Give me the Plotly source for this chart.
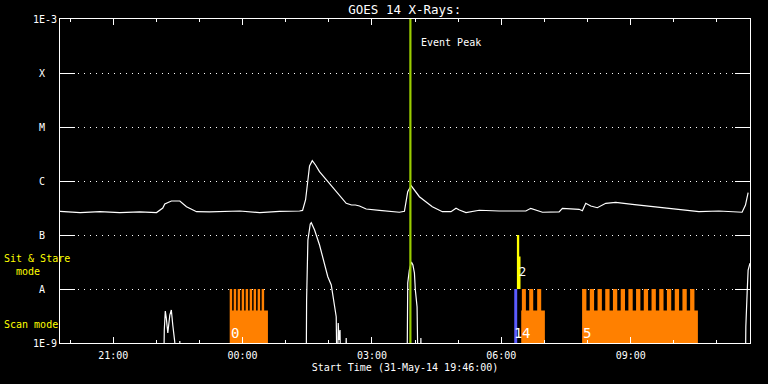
import plotly.graph_objects as go
import pandas as pd

# ---------------- data ----------------
start_time = "2014-05-31 19:46:00"
end_time = "2014-06-01 11:46:00"
peak_time = "2014-06-01 03:53:30"

long_times = [
    "2014-05-31 19:46:00", "2014-05-31 20:14:00", "2014-05-31 20:41:36", "2014-05-31 21:09:00",
    "2014-05-31 21:37:00", "2014-05-31 22:00:18", "2014-05-31 22:09:00", "2014-05-31 22:11:48",
    "2014-05-31 22:21:00", "2014-05-31 22:32:42", "2014-05-31 22:42:00", "2014-05-31 22:56:00",
    "2014-05-31 23:14:00", "2014-05-31 23:56:00", "2014-06-01 00:23:48", "2014-06-01 00:51:36",
    "2014-06-01 01:19:18", "2014-06-01 01:23:30", "2014-06-01 01:27:42", "2014-06-01 01:30:24",
    "2014-06-01 01:33:12", "2014-06-01 01:37:00", "2014-06-01 01:41:30", "2014-06-01 01:47:00",
    "2014-06-01 01:54:00", "2014-06-01 02:01:00", "2014-06-01 02:12:00", "2014-06-01 02:24:12",
    "2014-06-01 02:31:36", "2014-06-01 02:37:00", "2014-06-01 02:42:42", "2014-06-01 02:52:00",
    "2014-06-01 03:10:24", "2014-06-01 03:38:12", "2014-06-01 03:45:12", "2014-06-01 03:49:48",
    "2014-06-01 03:54:30", "2014-06-01 04:06:00", "2014-06-01 04:24:00", "2014-06-01 04:38:00",
    "2014-06-01 04:50:00", "2014-06-01 04:57:00", "2014-06-01 05:01:36", "2014-06-01 05:10:54",
    "2014-06-01 05:29:18", "2014-06-01 05:57:00", "2014-06-01 06:34:12", "2014-06-01 06:41:00",
    "2014-06-01 06:57:18", "2014-06-01 07:20:24", "2014-06-01 07:25:00", "2014-06-01 07:48:12",
    "2014-06-01 07:52:48", "2014-06-01 07:57:30", "2014-06-01 08:04:30", "2014-06-01 08:13:36",
    "2014-06-01 08:25:18", "2014-06-01 08:39:12", "2014-06-01 09:02:18", "2014-06-01 09:39:18",
    "2014-06-01 10:11:42", "2014-06-01 10:34:54", "2014-06-01 11:02:42", "2014-06-01 11:21:12",
    "2014-06-01 11:35:00", "2014-06-01 11:39:42", "2014-06-01 11:43:24",
]
long_flux = [
    2.75e-7, 2.6e-7, 2.7e-7, 2.6e-7,
    2.67e-7, 2.6e-7, 3.16e-7, 3.75e-7,
    4.26e-7, 4.26e-7, 3.34e-7, 2.7e-7,
    2.67e-7, 2.78e-7, 2.6e-7, 2.75e-7,
    2.78e-7, 2.85e-7, 4.5e-7, 1.04e-6,
    1.9e-6, 2.38e-6, 1.98e-6, 1.49e-6,
    1.16e-6, 9.18e-7, 6.26e-7, 3.86e-7,
    3.59e-7, 3.59e-7, 3.44e-7, 3.03e-7,
    2.85e-7, 2.64e-7, 2.75e-7, 6.34e-7,
    8.18e-7, 5.12e-7, 3.34e-7, 2.7e-7,
    2.7e-7, 3.12e-7, 2.9e-7, 2.6e-7,
    2.87e-7, 2.78e-7, 2.78e-7, 3.12e-7,
    2.64e-7, 2.67e-7, 3.12e-7, 2.99e-7,
    2.82e-7, 3.86e-7, 3.44e-7, 3.2e-7,
    3.86e-7, 4.03e-7, 3.7e-7, 3.26e-7,
    2.9e-7, 2.7e-7, 2.78e-7, 2.7e-7,
    2.64e-7, 3.59e-7, 6.07e-7,
]

short_times = [
    "2014-05-31 19:46:00", "2014-05-31 22:09:48", "2014-05-31 22:11:06", "2014-05-31 22:12:30",
    "2014-05-31 22:13:54", "2014-05-31 22:16:00", "2014-05-31 22:18:48", "2014-05-31 22:20:54",
    "2014-05-31 22:22:54", "2014-05-31 22:25:42", "2014-05-31 22:27:06", "2014-05-31 22:31:18",
    "2014-05-31 22:32:42", "2014-05-31 22:34:06", "2014-06-01 01:28:24", "2014-06-01 01:29:06",
    "2014-06-01 01:30:54", "2014-06-01 01:34:12", "2014-06-01 01:35:36", "2014-06-01 01:40:12",
    "2014-06-01 01:47:06", "2014-06-01 01:51:42", "2014-06-01 01:56:24", "2014-06-01 01:58:36",
    "2014-06-01 02:03:24", "2014-06-01 02:07:00", "2014-06-01 02:10:18", "2014-06-01 02:11:42",
    "2014-06-01 02:13:06", "2014-06-01 02:14:12", "2014-06-01 02:15:36", "2014-06-01 02:17:00",
    "2014-06-01 02:22:12", "2014-06-01 02:24:12", "2014-06-01 02:26:00", "2014-06-01 03:48:36",
    "2014-06-01 03:49:48", "2014-06-01 03:52:06", "2014-06-01 03:54:54", "2014-06-01 03:57:00",
    "2014-06-01 03:59:06", "2014-06-01 04:00:24", "2014-06-01 04:02:48", "2014-06-01 04:04:36",
    "2014-06-01 04:07:00", "2014-06-01 04:08:06", "2014-06-01 04:09:30", "2014-06-01 11:39:12",
    "2014-06-01 11:40:12", "2014-06-01 11:42:00", "2014-06-01 11:43:24", "2014-06-01 11:46:00",
]
short_flux = [
    1e-10, 1e-10, 1.74e-9, 3.9e-9,
    2.9e-9, 1.53e-9, 3.3e-9, 4.08e-9,
    2.15e-9, 1.04e-9, 1e-10, 1e-10,
    1.09e-9, 1e-10, 1e-10, 6.26e-9,
    8.08e-8, 1.6e-7, 1.69e-7, 1.24e-7,
    6.53e-8, 3.96e-8, 2.25e-8, 1.69e-8,
    1.19e-8, 6.26e-9, 3.07e-9, 1e-10,
    2.35e-9, 1.14e-9, 1.74e-9, 1e-10,
    1e-10, 1.24e-9, 1e-10, 1e-10,
    1.29e-8, 2.25e-8, 3.16e-8, 2.78e-8,
    1.98e-8, 9.6e-9, 4.64e-9, 1e-10,
    1e-10, 1.24e-9, 1e-10, 1e-10,
    1.98e-9, 8.43e-9, 2.25e-8, 3.0e-8,
]

level_ticks = [1e-9, 1e-8, 1e-7, 1e-6, 1e-5, 1e-4, 1e-3]
level_labels = ["1E-9", "A", "B", "C", "M", "X", "1E-3"]
x_tick_start = "2014-05-31 21:00:00"

# scan-mode observations (orange)
scan_obs_ids = ["0", "4", "5"]
scan_obs_start = ["2014-05-31 23:42:06", "2014-06-01 06:27:42", "2014-06-01 07:52:24"]
scan_obs_end = ["2014-06-01 00:35:18", "2014-06-01 07:00:36", "2014-06-01 10:33:30"]
scan_raster_starts = [
    ["2014-05-31 23:42:06", "2014-05-31 23:47:42", "2014-05-31 23:53:12", "2014-05-31 23:58:48",
     "2014-06-01 00:04:18", "2014-06-01 00:09:54", "2014-06-01 00:15:24", "2014-06-01 00:21:00",
     "2014-06-01 00:26:36"],
    ["2014-06-01 06:28:36", "2014-06-01 06:38:48", "2014-06-01 06:49:54"],
    ["2014-06-01 07:52:24", "2014-06-01 08:03:06", "2014-06-01 08:13:54", "2014-06-01 08:24:36",
     "2014-06-01 08:35:18", "2014-06-01 08:46:06", "2014-06-01 08:56:48", "2014-06-01 09:07:30",
     "2014-06-01 09:18:12", "2014-06-01 09:29:00", "2014-06-01 09:39:42", "2014-06-01 09:50:24",
     "2014-06-01 10:01:18", "2014-06-01 10:12:00", "2014-06-01 10:22:42"],
]
scan_raster_minutes = [3.4, 5.6, 6.0]
scan_floor, scan_block_top, scan_raster_top = 1e-9, 4e-9, 1e-8

# other scan observation (blue)
blue_obs_id = "1"
blue_obs_start = "2014-06-01 06:18:00"
blue_obs_end = "2014-06-01 06:22:06"

# sit & stare observations (yellow)
sit_obs_ids = ["2", ""]
sit_obs_start = ["2014-06-01 06:21:42", "2014-06-01 06:22:30"]
sit_obs_end = ["2014-06-01 06:24:54", "2014-06-01 06:26:42"]
sit_obs_top = [1e-7, 4e-8]
sit_floor = 1e-8

# ---------------- helpers ----------------
def rects(x0s, x1s, y0, y1s):
    xs, ys = [], []
    for a, b, top in zip(x0s, x1s, y1s):
        xs += [a, b, b, a, a, None]
        ys += [y0, y0, top, top, y0, None]
    return xs, ys

ts = pd.to_datetime
fig = go.Figure()

# orange scan blocks
bx0, bx1, bys = [], [], []
for s, e in zip(scan_obs_start, scan_obs_end):
    bx0.append(ts(s)); bx1.append(ts(e)); bys.append(scan_block_top)
for starts, dur in zip(scan_raster_starts, scan_raster_minutes):
    for s in starts:
        bx0.append(ts(s)); bx1.append(ts(s) + pd.Timedelta(minutes=dur)); bys.append(scan_raster_top)
xs, ys = rects(bx0, bx1, scan_floor, bys)
fig.add_trace(go.Scatter(x=xs, y=ys, mode="lines", fill="toself", fillcolor="#ff8000",
                         line=dict(width=0, color="#ff8000"), hoverinfo="skip"))

# blue observation
xs, ys = rects([ts(blue_obs_start)], [ts(blue_obs_end)], scan_floor, [scan_raster_top])
fig.add_trace(go.Scatter(x=xs, y=ys, mode="lines", fill="toself", fillcolor="#5c5cff",
                         line=dict(width=0, color="#5c5cff"), hoverinfo="skip"))

# sit & stare
xs, ys = rects([ts(s) for s in sit_obs_start], [ts(e) for e in sit_obs_end], sit_floor, sit_obs_top)
fig.add_trace(go.Scatter(x=xs, y=ys, mode="lines", fill="toself", fillcolor="#ffff00",
                         line=dict(width=0, color="#ffff00"), hoverinfo="skip"))

# GOES curves
fig.add_trace(go.Scatter(x=long_times, y=long_flux, mode="lines",
                         line=dict(color="white", width=1.2)))
fig.add_trace(go.Scatter(x=short_times, y=short_flux, mode="lines",
                         line=dict(color="white", width=1.2)))

# event peak line
fig.add_trace(go.Scatter(x=[peak_time, peak_time], y=[level_ticks[0], level_ticks[-1]], mode="lines",
                         line=dict(color="rgb(154,205,0)", width=2.2)))

mono = "DejaVu Sans Mono"
ann = []
ann.append(dict(x=peak_time, y=0.926, xref="x", yref="paper", text="Event Peak", showarrow=False,
                xanchor="left", yanchor="middle", xshift=9, font=dict(family=mono, size=10, color="white")))
for oid, s in zip(scan_obs_ids, scan_obs_start):
    ann.append(dict(x=s, y=0.031, xref="x", yref="paper", text=oid, showarrow=False,
                    xanchor="left", yanchor="middle", xshift=-1,
                    font=dict(family=mono, size=14, color="white")))
ann.append(dict(x=blue_obs_start, y=0.031, xref="x", yref="paper", text=blue_obs_id, showarrow=False,
                xanchor="left", yanchor="middle", xshift=-2,
                font=dict(family=mono, size=14, color="white")))
for oid, s in zip(sit_obs_ids, sit_obs_start):
    if oid:
        ann.append(dict(x=s, y=0.219, xref="x", yref="paper", text=oid, showarrow=False,
                        xanchor="left", yanchor="middle", xshift=0,
                        font=dict(family=mono, size=12, color="white")))
ann.append(dict(x=-0.084, y=0.242, xref="paper", yref="paper",
                text="Sit & Stare<br>\u00a0\u00a0mode", showarrow=False, align="left",
                xanchor="left", yanchor="middle", font=dict(family=mono, size=10, color="#ffff00")))
ann.append(dict(x=-0.084, y=0.057, xref="paper", yref="paper", text="Scan mode", showarrow=False,
                xanchor="left", yanchor="middle", font=dict(family=mono, size=10, color="#ffff00")))

ytext = [lab if len(lab) > 1 else lab + "\u00a0\u00a0" for lab in level_labels]

fig.update_layout(
    width=768, height=384,
    margin=dict(l=60, r=18, t=19, b=41),
    paper_bgcolor="black", plot_bgcolor="black",
    showlegend=False, hovermode=False,
    title=dict(text="GOES 14 X-Rays:", x=0.527, xanchor="center", y=0.974, yanchor="middle",
               font=dict(family=mono, size=12.5, color="white")),
    annotations=ann,
    xaxis=dict(
        type="date", range=[start_time, end_time],
        tickformat="%H:%M", tick0=x_tick_start, dtick=3 * 3600000,
        ticks="inside", ticklen=6, tickcolor="white", tickwidth=1,
        minor=dict(dtick=3600000, tick0=x_tick_start, ticks="inside", ticklen=3, tickcolor="white", showgrid=False),
        showline=True, linecolor="white", linewidth=1, mirror="ticks",
        showgrid=False, zeroline=False, ticklabelstandoff=3,
        tickfont=dict(family=mono, size=10, color="white"),
        title=dict(text="Start Time (31-May-14 19:46:00)", standoff=3,
                   font=dict(family=mono, size=10, color="white")),
    ),
    yaxis=dict(
        type="log", range=[-9, -3],
        tickmode="array", tickvals=level_ticks, ticktext=ytext,
        ticks="inside", ticklen=15, tickcolor="white", tickwidth=1,
        showline=True, linecolor="white", linewidth=1, mirror="ticks",
        showgrid=True, gridcolor="white", gridwidth=1, griddash="1px,5px",
        zeroline=False,
        tickfont=dict(family=mono, size=10, color="white"),
    ),
)

fig.write_html("out.html", config={"displayModeBar": False},
               post_script="document.body.style.margin='0';document.body.style.background='black';")
